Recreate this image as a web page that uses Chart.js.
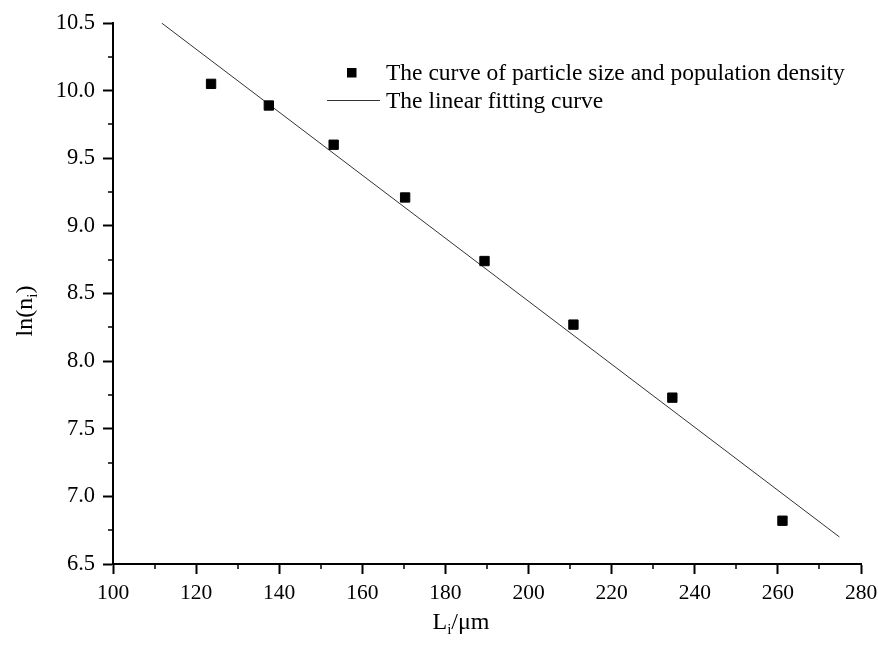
<!DOCTYPE html>
<html>
<head>
<meta charset="utf-8">
<script src="https://cdn.jsdelivr.net/npm/chart.js@4"></script>
<style>
  body { margin: 0; background: #fff; }
  canvas { display: block; }
</style>
</head>
<body>
<canvas id="grafico" width="878" height="646"></canvas>
<script>
// measured points: particle size L_i (um) vs ln(n_i)
const sizeL = [123.6, 137.5, 153.1, 170.3, 189.4, 210.8, 234.6, 261.1];
const lnN = [10.05, 9.89, 9.60, 9.21, 8.74, 8.27, 7.73, 6.82];

// ends of the linear fitting line
const fitX = [111.7, 274.8];
const fitY = [10.5, 6.70];

const legendLabels = [
  "The curve of particle size and population density",
  "The linear fitting curve"
];

const xRange = [100, 280];
const yRange = [6.5, 10.5];

const serif = "'Liberation Serif', 'Times New Roman', serif";

const pointsData = sizeL.map((x, i) => ({ x: x, y: lnN[i] }));
const fitData = fitX.map((x, i) => ({ x: x, y: fitY[i] }));

// minor ticks, axis titles with subscripts and the legend
const extras = {
  id: "extras",
  afterDraw(chart) {
    const ctx = chart.ctx;
    const xs = chart.scales.x;
    const ys = chart.scales.y;
    const area = chart.chartArea;
    ctx.save();
    ctx.strokeStyle = "#000";
    ctx.lineWidth = 1.5;

    // minor ticks
    for (let v = xRange[0] + 10; v < xRange[1]; v += 20) {
      const px = Math.round(xs.getPixelForValue(v));
      ctx.beginPath();
      ctx.moveTo(px, area.bottom);
      ctx.lineTo(px, area.bottom + 5);
      ctx.stroke();
    }
    for (let v = yRange[0] + 0.25; v < yRange[1]; v += 0.5) {
      const py = Math.round(ys.getPixelForValue(v));
      ctx.beginPath();
      ctx.moveTo(area.left, py);
      ctx.lineTo(area.left - 5, py);
      ctx.stroke();
    }

    ctx.fillStyle = "#000";
    ctx.textBaseline = "alphabetic";
    ctx.textAlign = "left";

    // x title: L_i/um
    const big = "24px " + serif;
    const small = "15px " + serif;
    ctx.font = big;
    const wL = ctx.measureText("L").width;
    const wRest = ctx.measureText("/\u03bcm").width;
    ctx.font = small;
    const wi = ctx.measureText("i").width;
    const tx = 461 - (wL + wi + wRest) / 2;
    const ty = 629;
    ctx.font = big;
    ctx.fillText("L", tx, ty);
    ctx.font = small;
    ctx.fillText("i", tx + wL, ty + 5);
    ctx.font = big;
    ctx.fillText("/\u03bcm", tx + wL + wi, ty);

    // y title: ln(n_i)
    ctx.save();
    ctx.translate(32, 311);
    ctx.rotate(-Math.PI / 2);
    ctx.font = big;
    const w1 = ctx.measureText("ln(n").width;
    const w2 = ctx.measureText(")").width;
    ctx.font = small;
    const w3 = ctx.measureText("i").width;
    const sx = -(w1 + w2 + w3) / 2;
    ctx.font = big;
    ctx.fillText("ln(n", sx, 0);
    ctx.font = small;
    ctx.fillText("i", sx + w1, 5);
    ctx.font = big;
    ctx.fillText(")", sx + w1 + w3, 0);
    ctx.restore();

    // legend
    const ds = chart.data.datasets;
    ctx.font = "23.5px " + serif;
    ctx.fillStyle = ds[0].backgroundColor;
    ctx.fillRect(347, 68, 9.5, 9.5);
    ctx.fillStyle = "#000";
    ctx.fillText(legendLabels[0], 386, 80);
    ctx.strokeStyle = ds[1].borderColor;
    ctx.lineWidth = 1;
    ctx.beginPath();
    ctx.moveTo(327, 100.5);
    ctx.lineTo(380, 100.5);
    ctx.stroke();
    ctx.fillText(legendLabels[1], 386, 108);

    ctx.restore();
  }
};

const chart = new Chart(document.getElementById("grafico").getContext("2d"), {
  type: "scatter",
  data: {
    datasets: [
      {
        label: legendLabels[0],
        data: pointsData,
        pointStyle: "rect",
        pointRadius: 6.6,
        backgroundColor: "#000",
        borderColor: "#000",
        borderWidth: 1,
        showLine: false
      },
      {
        label: legendLabels[1],
        data: fitData,
        showLine: true,
        pointRadius: 0,
        borderColor: "#333",
        borderWidth: 1,
        fill: false
      }
    ]
  },
  options: {
    responsive: false,
    animation: false,
    layout: { padding: { top: 23, right: 17, left: 0, bottom: 0 } },
    plugins: {
      legend: { display: false },
      tooltip: { enabled: false }
    },
    scales: {
      x: {
        type: "linear",
        min: xRange[0],
        max: xRange[1],
        afterFit: s => { s.height = 82; s.paddingLeft = 0; s.paddingRight = 0; },
        ticks: {
          stepSize: 20,
          color: "#000",
          padding: 6,
          maxRotation: 0,
          font: { family: serif, size: 21.5 }
        },
        grid: {
          drawOnChartArea: false,
          drawTicks: true,
          tickLength: 10,
          tickColor: "#000",
          tickWidth: 2
        },
        border: { display: true, color: "#000", width: 2 }
      },
      y: {
        min: yRange[0],
        max: yRange[1],
        afterFit: s => { s.width = 113; s.paddingTop = 0; s.paddingBottom = 0; },
        ticks: {
          stepSize: 0.5,
          color: "#000",
          padding: 8,
          callback: v => v.toFixed(1),
          font: { family: serif, size: 22.5 }
        },
        grid: {
          drawOnChartArea: false,
          drawTicks: true,
          tickLength: 10,
          tickColor: "#000",
          tickWidth: 2
        },
        border: { display: true, color: "#000", width: 2 }
      }
    }
  },
  plugins: [extras]
});
</script>
</body>
</html>
